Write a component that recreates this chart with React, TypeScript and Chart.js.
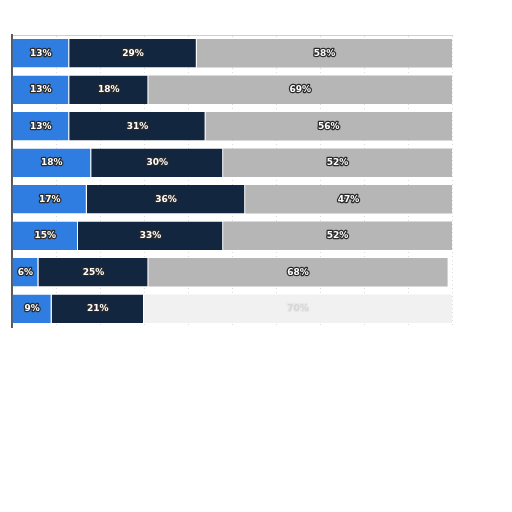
import React, { useEffect, useRef } from "react";
import { Chart, registerables } from "chart.js";

Chart.register(...registerables);

const categories = ["Row 1", "Row 2", "Row 3", "Row 4", "Row 5", "Row 6", "Row 7", "Row 8"];
const blueValues = [13, 13, 13, 18, 17, 15, 6, 9];
const navyValues = [29, 18, 31, 30, 36, 33, 25, 21];
const grayValues = [58, 69, 56, 52, 47, 52, 68, 70];
const xTicks = [0, 10, 20, 30, 40, 50, 60, 70, 80, 90, 100];

const grayColors = grayValues.map((_, i) => (i === grayValues.length - 1 ? "#f1f1f1" : "#b6b6b6"));

const labelPlugin = {
  id: "barLabels",
  afterDatasetsDraw(chart: any) {
    const ctx = chart.ctx;
    ctx.save();
    ctx.font = "bold 9px 'DejaVu Sans', sans-serif";
    ctx.textAlign = "center";
    ctx.textBaseline = "middle";
    chart.data.datasets.forEach((ds: any, di: number) => {
      const meta = chart.getDatasetMeta(di);
      meta.data.forEach((bar: any, i: number) => {
        const v = ds.data[i];
        const x = (bar.x + bar.base) / 2;
        const y = bar.y;
        const txt = v + "%";
        const faint = di === 2 && i === ds.data.length - 1;
        ctx.lineJoin = "round";
        ctx.lineWidth = 2.5;
        ctx.strokeStyle = faint ? "#e8e8e8" : "#2a2a2a";
        ctx.strokeText(txt, x, y);
        ctx.fillStyle = faint ? "#d6d6d6" : "#ffffff";
        ctx.fillText(txt, x, y);
      });
    });
    ctx.restore();
  },
};

export default function App() {
  const ref = useRef<HTMLCanvasElement>(null);
  useEffect(() => {
    if (!ref.current) return;
    const chart = new Chart(ref.current, {
      type: "bar",
      data: {
        labels: categories,
        datasets: [
          { data: blueValues, backgroundColor: "#2f7de0", borderColor: "#ffffff", borderWidth: { right: 1 } as any, borderSkipped: false },
          { data: navyValues, backgroundColor: "#13263f", borderColor: "#ffffff", borderWidth: { right: 1 } as any, borderSkipped: false },
          { data: grayValues, backgroundColor: grayColors, borderWidth: 0 },
        ],
      },
      options: {
        indexAxis: "y",
        animation: false,
        responsive: false,
        maintainAspectRatio: false,
        layout: { padding: { left: 12, top: 35, right: 60, bottom: 185 } },
        plugins: { legend: { display: false }, tooltip: { enabled: false } },
        datasets: { bar: { barPercentage: 0.78, categoryPercentage: 1 } },
        scales: {
          x: {
            stacked: true,
            position: "top",
            min: 0,
            max: 100,
            afterBuildTicks: (axis: any) => {
              axis.ticks = xTicks.map((v) => ({ value: v }));
            },
            ticks: { display: false },
            grid: { color: "#dcdcdc", drawTicks: false, tickLength: 0 },
            border: { display: true, color: "#cfcfcf", dash: [1, 3] },
          },
          y: {
            stacked: true,
            ticks: { display: false },
            grid: { display: false, drawTicks: false },
            border: { display: true, color: "#5a5a5a", width: 2 },
          },
        },
      },
      plugins: [labelPlugin],
    });
    return () => chart.destroy();
  }, []);
  return (
    <div style={{ position: "absolute", left: 0, top: 0, width: 512, height: 512 }}>
      <canvas ref={ref} width={512} height={512} style={{ width: 512, height: 512 }} />
    </div>
  );
}
